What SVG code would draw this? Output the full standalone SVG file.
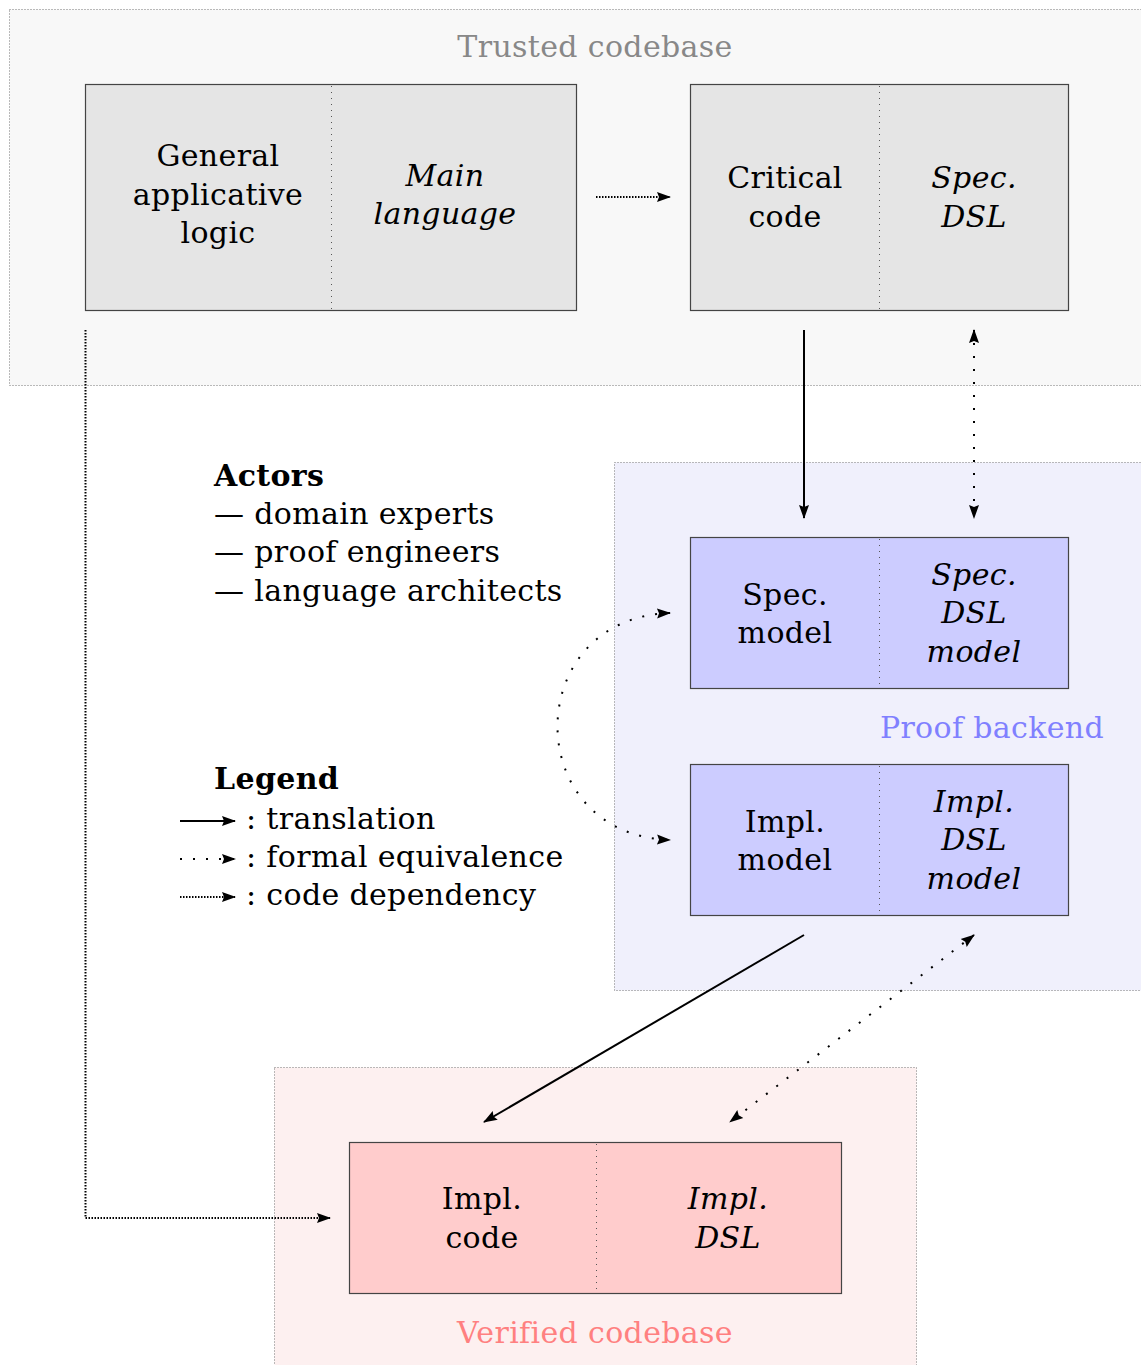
<svg xmlns="http://www.w3.org/2000/svg" width="1141" height="1365" viewBox="0 0 1141 1365">
<style>
text{font-family:"DejaVu Serif","Liberation Serif",serif;font-size:30px;letter-spacing:0.35px;fill:#000}
.c{text-anchor:middle}
.i{font-style:italic}
.b{font-weight:bold}
.grp{stroke:#777;stroke-width:1;stroke-dasharray:1 2}
.box{stroke:#444;stroke-width:1.2}
.div{stroke:#555;stroke-width:1;stroke-dasharray:1 5}
.solid{fill:none;stroke:#000;stroke-width:2}
.equiv{fill:none;stroke:#000;stroke-width:2;stroke-dasharray:2 11}
.dep{fill:none;stroke:#000;stroke-width:2;stroke-dasharray:1.5 1.5}
</style>
<defs>
<marker id="ah" markerUnits="userSpaceOnUse" markerWidth="14" markerHeight="12" refX="13" refY="5" orient="auto-start-reverse" viewBox="0 0 14 10">
<path d="M0,0 L14,5 L0,10 L2,5 z" fill="#000"/>
</marker>
</defs>

<g id="trusted-codebase">
<rect x="9.5" y="9.5" width="1140" height="376" fill="#f8f8f8" class="grp"/>
<text x="595" y="57" class="c" style="fill:#888">Trusted codebase</text>
</g>
<g id="proof-backend">
<rect x="614.5" y="462.5" width="540" height="528" fill="#f0f0fc" class="grp"/>
<text x="992" y="738" class="c" style="fill:#8080ff">Proof backend</text>
</g>
<g id="verified-codebase">
<rect x="274.5" y="1067.5" width="642" height="310" fill="#fdf0f0" class="grp"/>
<text x="595" y="1343" class="c" style="fill:#ff8080">Verified codebase</text>
</g>

<g id="main-language-box">
<rect x="85.5" y="84.5" width="491" height="226" fill="#e5e5e5" class="box"/>
<line x1="331.5" y1="86" x2="331.5" y2="309" class="div"/>
<text x="218" y="166" class="c">General</text>
<text x="218" y="205" class="c">applicative</text>
<text x="218" y="243" class="c">logic</text>
<text x="445" y="186" class="c i">Main</text>
<text x="445" y="224" class="c i">language</text>
</g>

<g id="critical-code-box">
<rect x="690.5" y="84.5" width="378" height="226" fill="#e5e5e5" class="box"/>
<line x1="879.5" y1="86" x2="879.5" y2="309" class="div"/>
<text x="785" y="188" class="c">Critical</text>
<text x="785" y="227" class="c">code</text>
<text x="974" y="188" class="c i">Spec.</text>
<text x="974" y="227" class="c i">DSL</text>
</g>

<g id="spec-model-box">
<rect x="690.5" y="537.5" width="378" height="151" fill="#ccccff" class="box"/>
<line x1="879.5" y1="539" x2="879.5" y2="687" class="div"/>
<text x="785" y="605" class="c">Spec.</text>
<text x="785" y="643" class="c">model</text>
<text x="974" y="585" class="c i">Spec.</text>
<text x="974" y="623" class="c i">DSL</text>
<text x="974" y="662" class="c i">model</text>
</g>

<g id="impl-model-box">
<rect x="690.5" y="764.5" width="378" height="151" fill="#ccccff" class="box"/>
<line x1="879.5" y1="766" x2="879.5" y2="914" class="div"/>
<text x="785" y="832" class="c">Impl.</text>
<text x="785" y="870" class="c">model</text>
<text x="974" y="812" class="c i">Impl.</text>
<text x="974" y="850" class="c i">DSL</text>
<text x="974" y="889" class="c i">model</text>
</g>

<g id="impl-code-box">
<rect x="349.5" y="1142.5" width="492" height="151" fill="#ffcccc" class="box"/>
<line x1="596.5" y1="1144" x2="596.5" y2="1292" class="div"/>
<text x="482" y="1209" class="c">Impl.</text>
<text x="482" y="1248" class="c">code</text>
<text x="728" y="1209" class="c i">Impl.</text>
<text x="728" y="1248" class="c i">DSL</text>
</g>

<g id="actors">
<text x="214" y="486" class="b">Actors</text>
<text x="214" y="524">— domain experts</text>
<text x="214" y="562">— proof engineers</text>
<text x="214" y="601">— language architects</text>
</g>

<g id="legend">
<text x="214" y="789" class="b">Legend</text>
<line x1="180" y1="821" x2="235" y2="821" class="solid" marker-end="url(#ah)"/>
<text x="246" y="829">: translation</text>
<line x1="180" y1="859" x2="235" y2="859" class="equiv" marker-end="url(#ah)"/>
<text x="246" y="867">: formal equivalence</text>
<line x1="180" y1="897" x2="235" y2="897" class="dep" marker-end="url(#ah)"/>
<text x="246" y="905">: code dependency</text>
</g>

<g id="connectors">
<line x1="596" y1="197" x2="670" y2="197" class="dep" marker-end="url(#ah)"/>
<line x1="804" y1="330" x2="804" y2="518" class="solid" marker-end="url(#ah)"/>
<line x1="974" y1="330" x2="974" y2="518" class="equiv" marker-start="url(#ah)" marker-end="url(#ah)"/>
<path d="M670,613 C520,618 520,835 670,840" class="equiv" marker-start="url(#ah)" marker-end="url(#ah)"/>
<line x1="804" y1="935" x2="484" y2="1122" class="solid" marker-end="url(#ah)"/>
<line x1="974" y1="935" x2="730" y2="1122" class="equiv" marker-start="url(#ah)" marker-end="url(#ah)"/>
<path d="M85.5,330 L85.5,1218 L330,1218" class="dep" marker-end="url(#ah)"/>
</g>
</svg>
